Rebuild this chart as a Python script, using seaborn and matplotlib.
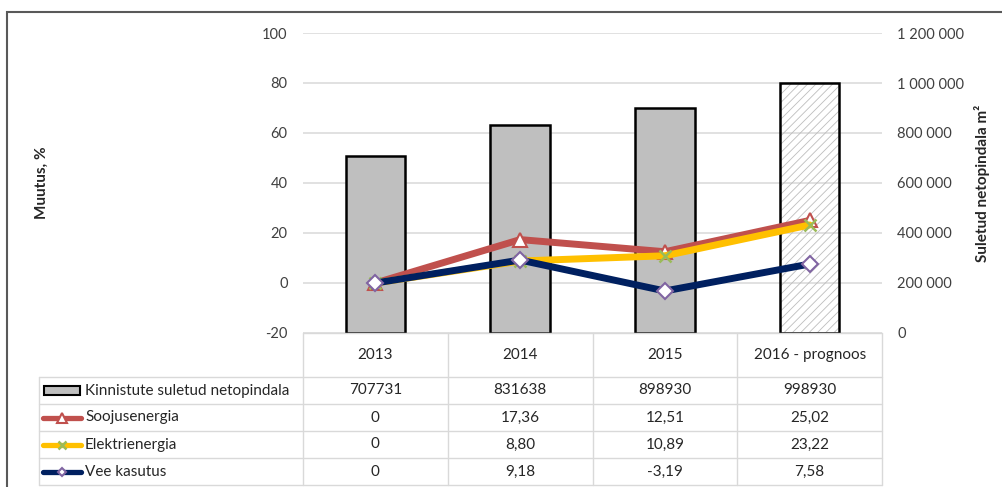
import numpy as np
import pandas as pd
import matplotlib
matplotlib.use("Agg")
import matplotlib.pyplot as plt
import seaborn as sns
from matplotlib.lines import Line2D
from matplotlib.patches import Rectangle
from matplotlib.ticker import FuncFormatter, MultipleLocator

# andmed
years = ["2013", "2014", "2015", "2016 - prognoos"]
area = [707731, 831638, 898930, 998930]
heat = [0, 17.36, 12.51, 25.02]
elec = [0, 8.80, 10.89, 23.22]
water = [0, 9.18, -3.19, 7.58]

bar_name = "Kinnistute suletud netopindala"
series_names = ["Soojusenergia", "Elektrienergia", "Vee kasutus"]
series_values = [heat, elec, water]
line_colors = ["#C0504D", "#FFC000", "#002060"]
marker_styles = [
    dict(marker="^", markerfacecolor="white", markeredgecolor="#C0504D", markeredgewidth=1.5),
    dict(marker="x", markerfacecolor="none", markeredgecolor="#9BBB59", markeredgewidth=1.8),
    dict(marker="D", markerfacecolor="white", markeredgecolor="#8064A2", markeredgewidth=1.5),
]
marker_sizes = [10, 9, 8]

sns.set_style("white")
plt.rcParams["font.family"] = ["Lato", "DejaVu Sans"]
plt.rcParams["hatch.linewidth"] = 0.6
plt.rcParams["axes.unicode_minus"] = False

W, H = 1002, 487
fig = plt.figure(figsize=(W / 100, H / 100), dpi=100)


def fx(x):
    return x / W


def fy(y):
    return 1 - y / H


L, R, T, B = 303, 882, 33, 333
ax = fig.add_axes([fx(L), fy(B), fx(R) - fx(L), fy(T) - fy(B)])

# tulbad (parem telg)
df_bar = pd.DataFrame({"year": years, "area": area})
sns.barplot(data=df_bar, x="year", y="area", color="#BFBFBF", saturation=1,
            edgecolor="black", linewidth=1.8, width=0.41, ax=ax)
last = ax.patches[len(years) - 1]
last.set_facecolor("none")
ax.add_patch(Rectangle((last.get_x(), last.get_y()), last.get_width(), last.get_height(),
                       fill=False, hatch="////", edgecolor="#BDBDBD", linewidth=0,
                       zorder=last.get_zorder() - 0.1))

ax.set_ylim(0, 1200000)
ax.yaxis.set_major_locator(MultipleLocator(200000))
ax.yaxis.set_major_formatter(FuncFormatter(lambda v, p: f"{int(v):,}".replace(",", " ")))
ax.grid(axis="y", color="#D9D9D9", linewidth=1.1)
ax.set_axisbelow(True)
ax.set_xlabel("")
ax.set_ylabel("")
ax.set_xticks([])

# jooned (vasak telg)
axl = ax.twinx()
pos = np.arange(len(years))
for vals, col, mk, ms in zip(series_values, line_colors, marker_styles, marker_sizes):
    sns.lineplot(x=pos, y=vals, color=col, linewidth=5, markersize=ms,
                 solid_joinstyle="round", ax=axl, **mk)
axl.set_ylim(-20, 100)
axl.yaxis.set_major_locator(MultipleLocator(20))
axl.set_ylabel("")
ax.set_xlim(-0.5, len(years) - 0.5)

# twinx paneb teljed ümber, seega pärast seda
ax.yaxis.tick_right()
axl.yaxis.tick_left()

for a in (ax, axl):
    for s in a.spines.values():
        s.set_visible(False)
    a.tick_params(axis="y", length=0, pad=11, labelsize=10.5, labelcolor="#404040")

fig.text(fx(42), fy(183), "Muutus, %", rotation=90, ha="center", va="center",
         fontsize=11, fontweight="bold", color="#262626")
fig.text(fx(982), fy(183), "Suletud netopindala m²", rotation=90, ha="center", va="center",
         fontsize=11, fontweight="bold", color="#262626")

# andmetabel
grid_kw = dict(color="#D9D9D9", linewidth=1.0, transform=fig.transFigure)
col_edges = [L + (R - L) * i / len(years) for i in range(len(years) + 1)]
head_bottom = 377
row_h = 27
n_rows = 1 + len(series_names)
tab_left = 39
rows_y = [head_bottom + row_h * i for i in range(n_rows + 1)]

fig.add_artist(Line2D([fx(L), fx(R)], [fy(B), fy(B)], **grid_kw))
for y in rows_y:
    fig.add_artist(Line2D([fx(tab_left), fx(R)], [fy(y), fy(y)], **grid_kw))
for x in col_edges:
    fig.add_artist(Line2D([fx(x), fx(x)], [fy(B), fy(rows_y[-1])], **grid_kw))
fig.add_artist(Line2D([fx(tab_left), fx(tab_left)], [fy(head_bottom), fy(rows_y[-1])], **grid_kw))

txt_kw = dict(fontsize=11, color="#262626", va="center")
for i, yr in enumerate(years):
    cx = (col_edges[i] + col_edges[i + 1]) / 2
    fig.text(fx(cx), fy((B + head_bottom) / 2), yr, ha="center", **txt_kw)


def fmt(v):
    return "0" if v == 0 else f"{v:.2f}".replace(".", ",")


table_rows = [(bar_name, [str(v) for v in area])] + \
    [(n, [fmt(v) for v in vals]) for n, vals in zip(series_names, series_values)]
for r, (name, cells) in enumerate(table_rows):
    cy = (rows_y[r] + rows_y[r + 1]) / 2
    fig.text(fx(85), fy(cy), name, ha="left", **txt_kw)
    for i, c in enumerate(cells):
        cx = (col_edges[i] + col_edges[i + 1]) / 2
        fig.text(fx(cx), fy(cy), c, ha="center", **txt_kw)
    if r == 0:
        fig.add_artist(Rectangle((fx(44), fy(cy + 4.5)), fx(36), 9 / H, facecolor="#BFBFBF",
                                 edgecolor="black", linewidth=1.5, transform=fig.transFigure))
    else:
        k = r - 1
        fig.add_artist(Line2D([fx(43), fx(81)], [fy(cy), fy(cy)], color=line_colors[k],
                              linewidth=3.8, solid_capstyle="round", transform=fig.transFigure))
        fig.add_artist(Line2D([fx(62)], [fy(cy)], linestyle="none", markersize=marker_sizes[k] - 3.5,
                              transform=fig.transFigure, **marker_styles[k]))

# välimine raam
fig.add_artist(Rectangle((fx(7), fy(H + 20)), fx(W + 20), (H + 20 - 12) / H, fill=False,
                         edgecolor="#595959", linewidth=1.5, transform=fig.transFigure))

fig.savefig("out.png", dpi=100)
